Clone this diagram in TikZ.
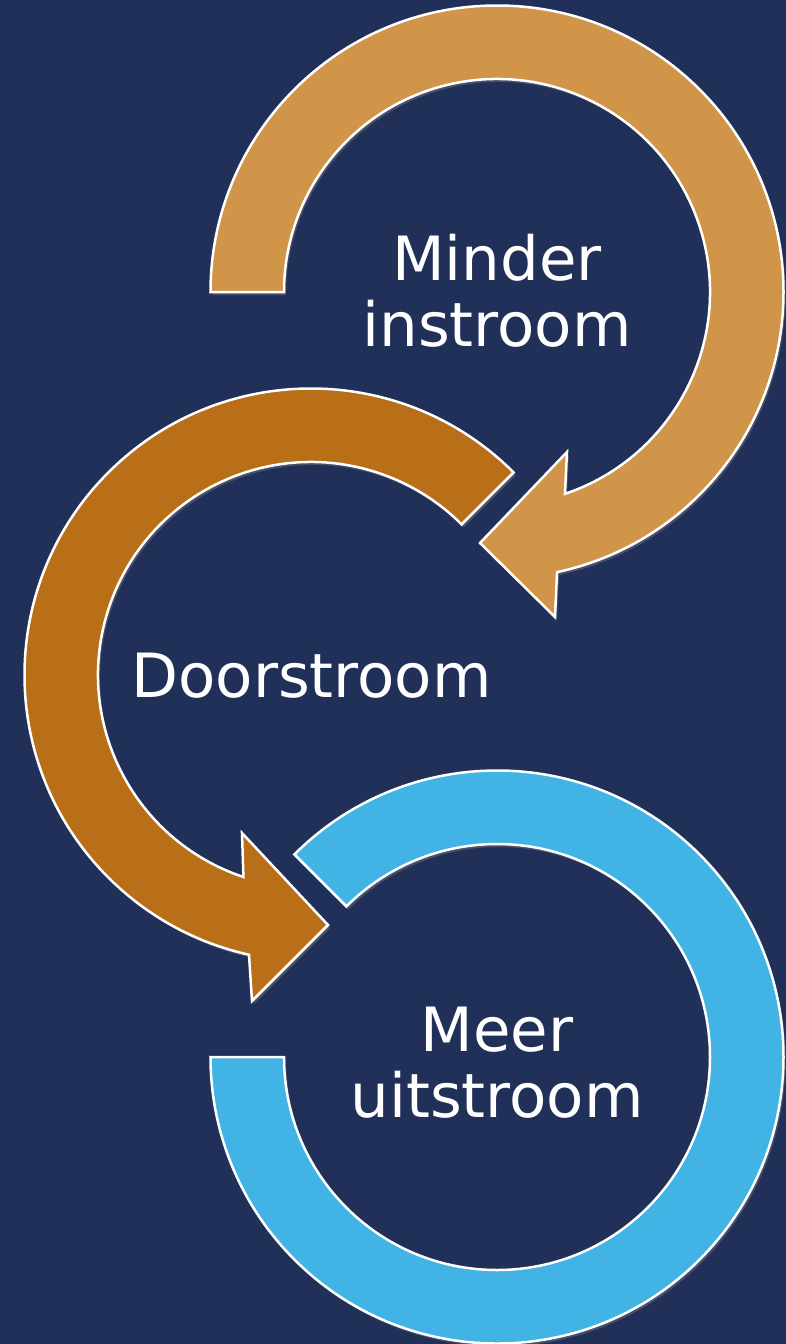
\documentclass[tikz,border=0pt]{standalone}
\usepackage{fontspec}
\setmainfont{DejaVu Sans}
\usetikzlibrary{calc,shadows}
\definecolor{bg}{HTML}{213059}
\definecolor{tanc}{HTML}{D09548}
\definecolor{rustc}{HTML}{B96F17}
\definecolor{skyc}{HTML}{41B3E4}
\begin{document}
\begin{tikzpicture}[x=1pt,y=1pt,
  arrowshape/.style={draw=white, line width=2.5pt, line join=miter,
    drop shadow={opacity=0.4, shadow xshift=2pt, shadow yshift=-3pt}},
  txt/.style={text=white, font=\fontsize{61}{66}\selectfont, align=center, inner sep=0pt}]
\fill[bg] (0,0) rectangle (786,-1344);
\useasboundingbox (0,0) rectangle (786,-1344);
\coordinate (c1) at (497,-292);
\coordinate (c2) at (311,-675);
\coordinate (c3) at (497,-1057);
% arrow 1
\path[arrowshape, fill=tanc] ($(c1)+(180:286.5)$) arc[start angle=180,end angle=-77.9,radius=286.5]
  -- (555,-617) -- (480,-543) -- (567,-452)
  -- ($(c1)+(-71.4:213)$) arc[start angle=-71.4,end angle=180,radius=213] -- cycle;
% arrow 2
\path[arrowshape, fill=rustc] ($(c2)+(45:286.5)$) arc[start angle=45,end angle=257.5,radius=286.5]
  -- (252,-1001) -- (328,-925) -- (242,-833)
  -- ($(c2)+(251.5:213)$) arc[start angle=251.5,end angle=45,radius=213] -- cycle;
% arc 3
\path[arrowshape, fill=skyc] ($(c3)+(135:286.5)$) arc[start angle=135,end angle=-180,radius=286.5]
  -- ($(c3)+(180:213)$) arc[start angle=-180,end angle=135,radius=213] -- cycle;
\node[txt] (t1) at (497,-291) {Minder\\instroom};
\node[txt, anchor=base] (t2) at (311.5,-697) {Doorstroom};
\node[txt] (t3) at (497,-1063) {Meer\\uitstroom};
\end{tikzpicture}
\end{document}
